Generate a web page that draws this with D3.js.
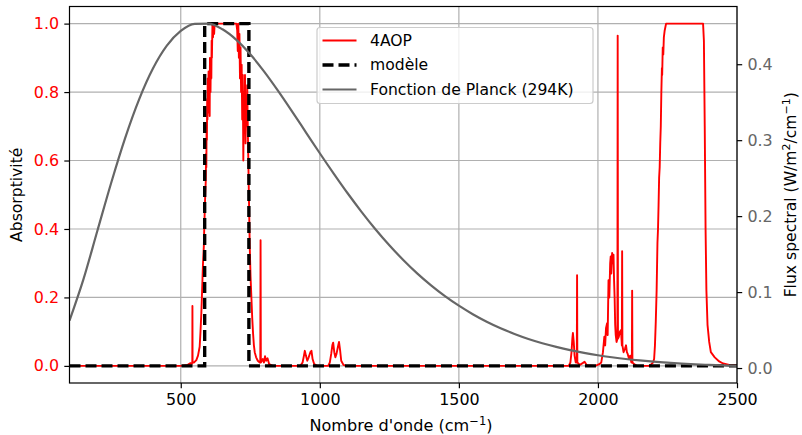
<!DOCTYPE html>
<html>
<head>
<meta charset="utf-8">
<script src="https://cdn.jsdelivr.net/npm/d3@7"></script>
<style>
  html, body { margin: 0; padding: 0; background: #fff; }
  svg { display: block; font-family: "DejaVu Sans", sans-serif; }
</style>
</head>
<body>
<svg id="chart" width="802" height="435"></svg>
<script>
// ---------- DATA ----------
const xTicks = [500, 1000, 1500, 2000, 2500];
const leftTicks = [0.0, 0.2, 0.4, 0.6, 0.8, 1.0];
const rightTicks = [0.0, 0.1, 0.2, 0.3, 0.4];

const seriesNames = ["4AOP", "modèle", "Fonction de Planck (294K)"];

const aopWavenumber = [100,500,525,535,540,541.5,542,542.5,548,556,562,568,571,574,576,578,580,583,585,586,588,590,591,592,593,594,595,596,597,598,600,601,603,604,605,607,608,610,611,612,614,616,618,620,622,700,703,705,707,709,711,713,715,717,719,721,723,725,727,729,731,733,735,737,739,741,743,745,748,751,754,757,760,763,766,771,777,784,786,787,788,795,799,803,807,812,818,830,930,938,943,946,950,955,960,966,970,974,980,990,1030,1036,1041,1045,1048,1052,1056,1060,1065,1069,1073,1077,1085,1095,1895,1901,1905,1908,1910,1913,1916,1920,1924,1925,1926,1935,1945,1952,1960,1990,2005,2012,2018,2023,2026,2029,2033,2035,2038,2041,2044,2046,2048,2051,2053,2056,2058,2060,2062,2064,2067,2070,2071,2072,2075,2079,2083,2086,2087,2088,2092,2097,2101,2104,2107,2112,2116,2120,2122,2123,2124,2130,2140,2185,2192,2198,2202,2205,2208,2211,2214,2216,2218,2220,2222,2224,2226,2228,2230,2231,2233,2235,2237,2240,2245,2378,2381,2384,2387,2390,2394,2400,2406,2420,2436,2450,2472,2500];
const aopAbsorptivity = [0,0,0.003,0.008,0.006,0.01,0.175,0.01,0.01,0.017,0.03,0.056,0.1,0.154,0.2,0.25,0.3,0.35,0.42,0.445,0.5,0.54,0.62,0.58,0.7,0.66,0.78,0.72,0.84,0.74,0.86,0.76,0.85,0.73,0.9,0.8,0.88,0.84,0.95,0.9,1.0,0.96,1.0,0.97,1.0,1.0,0.98,0.92,1.0,0.9,0.97,0.84,0.93,0.8,0.88,0.72,0.85,0.6,0.8,0.68,0.85,0.65,0.78,0.7,0.82,0.7,0.6,0.5,0.35,0.26,0.2,0.14,0.095,0.06,0.04,0.025,0.015,0.01,0.01,0.367,0.01,0.02,0.01,0.028,0.015,0.022,0.005,0,0,0.01,0.03,0.044,0.03,0.015,0.025,0.04,0.044,0.02,0.005,0,0,0.01,0.035,0.06,0.068,0.04,0.025,0.035,0.055,0.07,0.045,0.015,0.003,0,0,0.01,0.04,0.08,0.096,0.07,0.03,0.01,0.01,0.265,0.01,0.003,0.008,0.012,0.002,0,0.005,0.01,0.04,0.085,0.06,0.11,0.125,0.09,0.25,0.2,0.3,0.32,0.27,0.33,0.3,0.325,0.25,0.2,0.12,0.09,0.07,0.08,0.965,0.08,0.085,0.1,0.105,0.06,0.335,0.06,0.04,0.05,0.06,0.04,0.035,0.02,0.03,0.01,0.01,0.22,0.01,0.005,0,0,0.005,0.01,0.02,0.06,0.13,0.22,0.36,0.4,0.47,0.55,0.58,0.65,0.7,0.8,0.87,0.85,0.93,0.91,0.96,0.98,1.0,1.0,0.95,0.7,0.4,0.22,0.12,0.07,0.04,0.025,0.013,0.007,0.003,0.001];

// Model (step absorptivity)
const modelWavenumber = [100, 586, 586, 745, 745, 2500];
const modelAbsorptivity = [0, 0, 1, 1, 0, 0];

// Planck spectral flux at 294 K, W/m²/cm⁻¹
const planckWavenumber = [100,150,200,250,300,350,400,450,500,550,600,650,700,750,800,850,900,950,1000,1050,1100,1150,1200,1250,1300,1350,1400,1450,1500,1550,1600,1650,1700,1750,1800,1850,1900,1950,2000,2050,2100,2150,2200,2250,2300,2350,2400,2450,2500];
const planckFlux = [0.0625,0.1167,0.1804,0.2440,0.3028,0.3535,0.3943,0.4244,0.4438,0.4532,0.4535,0.4460,0.4321,0.4131,0.3903,0.3649,0.3380,0.3104,0.2828,0.2560,0.2301,0.2057,0.1828,0.1617,0.1423,0.1247,0.1089,0.0947,0.0821,0.0709,0.0610,0.0524,0.0449,0.0383,0.0327,0.0278,0.0235,0.0199,0.0168,0.0142,0.0119,0.0100,0.0084,0.0071,0.0059,0.0049,0.0041,0.0034,0.0028];

// ---------- LAYOUT ----------
const m = { left: 69.5, right: 737, top: 6.5, bottom: 383 };
const svg = d3.select("#chart");

const x = d3.scaleLinear().domain([100, 2500]).range([m.left, m.right]);
const yL = d3.scaleLinear().domain([-0.05, 1.05]).range([m.bottom, m.top]);
const yR = d3.scaleLinear().domain([-0.0197, 0.476]).range([m.bottom, m.top]);

svg.append("defs").append("clipPath").attr("id", "clip")
  .append("rect").attr("x", m.left).attr("y", m.top)
  .attr("width", m.right - m.left).attr("height", m.bottom - m.top);

// grid
const grid = svg.append("g");
xTicks.forEach(t => {
  grid.append("line").attr("x1", x(t)).attr("x2", x(t))
    .attr("y1", m.top).attr("y2", m.bottom)
    .attr("stroke", "#b0b0b0").attr("stroke-width", 1.2);
});
leftTicks.forEach(t => {
  grid.append("line").attr("x1", m.left).attr("x2", m.right)
    .attr("y1", yL(t)).attr("y2", yL(t))
    .attr("stroke", "#b0b0b0").attr("stroke-width", 1.2);
});

const plot = svg.append("g").attr("clip-path", "url(#clip)");

// 4AOP
const aopData = aopWavenumber.map((d, i) => [d, aopAbsorptivity[i]]);
plot.append("path").datum(aopData)
  .attr("fill", "none").attr("stroke", "#ff0000").attr("stroke-width", 1.9)
  .attr("stroke-linejoin", "round")
  .attr("d", d3.line().x(d => x(d[0])).y(d => yL(d[1])));

// model
const modelData = modelWavenumber.map((d, i) => [d, modelAbsorptivity[i]]);
plot.append("path").datum(modelData)
  .attr("fill", "none").attr("stroke", "#000").attr("stroke-width", 3.4)
  .attr("stroke-dasharray", "11,5")
  .attr("d", d3.line().x(d => x(d[0])).y(d => yL(d[1])));

// Planck
const planckData = planckWavenumber.map((d, i) => [d, planckFlux[i]]);
plot.append("path").datum(planckData)
  .attr("fill", "none").attr("stroke", "#666666").attr("stroke-width", 2.2)
  .attr("d", d3.line().curve(d3.curveMonotoneX).x(d => x(d[0])).y(d => yR(d[1])));

// axes
const fs = 15.6;
const fsTick = 15.9;
const fsLabel = 16.1;
const tk = 5.2;
const xAxis = svg.append("g").attr("transform", `translate(0,${m.bottom})`)
  .call(d3.axisBottom(x).tickValues(xTicks).tickFormat(d3.format("d")).tickSize(tk).tickPadding(tk));
const lAxis = svg.append("g").attr("transform", `translate(${m.left},0)`)
  .call(d3.axisLeft(yL).tickValues(leftTicks).tickFormat(d3.format(".1f")).tickSize(tk).tickPadding(tk));
const rAxis = svg.append("g").attr("transform", `translate(${m.right},0)`)
  .call(d3.axisRight(yR).tickValues(rightTicks).tickFormat(d3.format(".1f")).tickSize(tk).tickPadding(tk));

[xAxis, lAxis, rAxis].forEach(a => {
  a.select(".domain").remove();
  a.selectAll(".tick line").attr("stroke", "#000").attr("stroke-width", 1.2);
  a.selectAll(".tick text").attr("font-size", fsTick).attr("font-family", "DejaVu Sans").attr("fill", "#000");
});
lAxis.selectAll(".tick text").attr("fill", "#ff0000");
rAxis.selectAll(".tick text").attr("fill", "#666666");

// frame
svg.append("rect").attr("x", m.left).attr("y", m.top)
  .attr("width", m.right - m.left).attr("height", m.bottom - m.top)
  .attr("fill", "none").attr("stroke", "#000").attr("stroke-width", 1.2);

// axis labels
svg.append("text").attr("x", 401).attr("y", 430.5)
  .attr("text-anchor", "middle").attr("font-size", fsLabel)
  .html('Nombre d\'onde (cm<tspan dy="-6" font-size="11.5">−1</tspan><tspan dy="6">)</tspan>');

svg.append("text").attr("transform", `translate(22,${(m.top + m.bottom) / 2}) rotate(-90)`)
  .attr("text-anchor", "middle").attr("font-size", fs).text("Absorptivité");

svg.append("text").attr("transform", `translate(796,${(m.top + m.bottom) / 2}) rotate(-90)`)
  .attr("text-anchor", "middle").attr("font-size", fs)
  .html('Flux spectral (W/m<tspan dy="-6" font-size="11">2</tspan><tspan dy="6">/cm</tspan><tspan dy="-6" font-size="11">−1</tspan><tspan dy="6">)</tspan>');

// legend
const lg = svg.append("g");
lg.append("rect").attr("x", 317).attr("y", 27.5).attr("width", 276).attr("height", 76)
  .attr("rx", 3).attr("fill", "#fff").attr("fill-opacity", 0.8)
  .attr("stroke", "#cccccc").attr("stroke-width", 1.2);
const lgStyles = [
  { stroke: "#ff0000", w: 1.9, dash: null },
  { stroke: "#000", w: 3.4, dash: "11,5" },
  { stroke: "#666666", w: 2.2, dash: null }
];
const rowY = [40.5, 65, 89.5];
seriesNames.forEach((name, i) => {
  lg.append("line").attr("x1", 322.5).attr("x2", 356.5).attr("y1", rowY[i]).attr("y2", rowY[i])
    .attr("stroke", lgStyles[i].stroke).attr("stroke-width", lgStyles[i].w)
    .attr("stroke-dasharray", lgStyles[i].dash);
  lg.append("text").attr("x", 370).attr("y", rowY[i]).attr("dy", "0.35em")
    .attr("font-size", fs).text(name);
});
</script>
</body>
</html>
